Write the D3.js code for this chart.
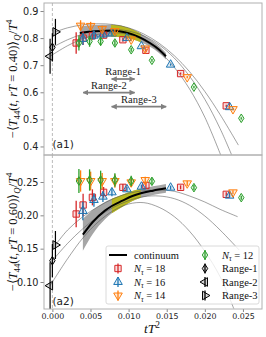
<!DOCTYPE html>
<html>
<head>
<meta charset="utf-8">
<script src="https://cdn.jsdelivr.net/npm/d3@7"></script>
<style>
  body { margin: 0; background: #fff; }
  svg { display: block; }
</style>
</head>
<body>
<div id="chart"></div>
<script>
// tT^2 positions of the lattice points (same in both panels)
const x18 = [0.00312, 0.00403, 0.00525, 0.00672, 0.00925, 0.01227, 0.01682, 0.02281];
const x16 = [0.00400, 0.00545, 0.00663, 0.00781, 0.00978, 0.01168, 0.01551, 0.02325];
const x14 = [0.00370, 0.00502, 0.00653, 0.00820, 0.01034, 0.01218, 0.01769, 0.02369];
const x12 = [0.00348, 0.00488, 0.00633, 0.00820, 0.01034, 0.01306, 0.01857, 0.02478];

// panel a1 (rT = 0.40)
const y18a = [0.782, 0.800, 0.809, 0.811, 0.794, 0.755, 0.669, 0.550];
const e18a = [0.040, 0.025, 0.015, 0.010, 0.007, 0.005, 0.004, 0.004];
const y16a = [0.797, 0.809, 0.813, 0.817, 0.800, 0.770, 0.702, 0.545];
const e16a = [0.022, 0.015, 0.010, 0.007, 0.005, 0.004, 0.004, 0.003];
const y14a = [0.846, 0.845, 0.834, 0.826, 0.795, 0.762, 0.656, 0.538];
const e14a = [0.020, 0.015, 0.012, 0.009, 0.007, 0.005, 0.004, 0.004];
const y12a = [0.782, 0.788, 0.788, 0.782, 0.757, 0.718, 0.619, 0.504];
const e12a = [0.028, 0.020, 0.015, 0.010, 0.007, 0.005, 0.004, 0.004];

// panel a2 (rT = 0.60)
const y18b = [0.202, 0.2155, 0.227, 0.2345, 0.242, 0.2448, 0.242, 0.2315];
const e18b = [0.020, 0.017, 0.012, 0.008, 0.005, 0.004, 0.003, 0.003];
const y16b = [0.2065, 0.223, 0.228, 0.2345, 0.239, 0.243, 0.2415, 0.2295];
const e16b = [0.014, 0.010, 0.008, 0.006, 0.004, 0.003, 0.003, 0.003];
const y14b = [0.2515, 0.2515, 0.2515, 0.2515, 0.2495, 0.253, 0.248, 0.2345];
const e14b = [0.016, 0.014, 0.012, 0.010, 0.007, 0.005, 0.004, 0.003];
const y12b = [0.2515, 0.253, 0.253, 0.253, 0.2515, 0.251, 0.2415, 0.2265];
const e12b = [0.018, 0.016, 0.014, 0.010, 0.008, 0.005, 0.004, 0.003];

// continuum curve + error band
const cont1X = [0.0036, 0.0056, 0.0077, 0.0095, 0.0106, 0.0116, 0.0128, 0.0139, 0.0149];
const cont1Y = [0.819, 0.825, 0.827, 0.822, 0.813, 0.801, 0.782, 0.760, 0.733];
const cont1E = [0.024, 0.023, 0.022, 0.020, 0.018, 0.016, 0.014, 0.013, 0.012];
const cont2X = [0.0040, 0.0053, 0.0069, 0.0078, 0.0092, 0.0105, 0.0116, 0.0132, 0.0149];
const cont2Y = [0.171, 0.190, 0.207, 0.214, 0.222, 0.229, 0.233, 0.237, 0.2405];
const cont2E = [0.024, 0.018, 0.013, 0.011, 0.009, 0.0075, 0.0068, 0.0065, 0.0065];
const oliveRange = [0.0077, 0.0116];

// fit curves for the three ranges
const r1aX = [0, 0.002, 0.004, 0.006, 0.008, 0.010, 0.012, 0.014, 0.016, 0.018, 0.020, 0.022, 0.0235];
const r1aY = [0.766, 0.794, 0.815, 0.828, 0.832, 0.826, 0.808, 0.775, 0.726, 0.659, 0.574, 0.466, 0.370];
const r2aX = [-0.0003, 0.002, 0.004, 0.006, 0.008, 0.010, 0.012, 0.014, 0.016, 0.018, 0.020, 0.0222];
const r2aY = [0.733, 0.772, 0.798, 0.814, 0.820, 0.813, 0.791, 0.751, 0.692, 0.612, 0.508, 0.360];
const r3aX = [0.0004, 0.002, 0.004, 0.006, 0.008, 0.010, 0.012, 0.014, 0.016, 0.018, 0.020, 0.022, 0.0244];
const r3aY = [0.823, 0.838, 0.849, 0.853, 0.850, 0.838, 0.815, 0.781, 0.735, 0.676, 0.603, 0.518, 0.405];

const r1bX = [0, 0.002, 0.004, 0.006, 0.008, 0.010, 0.012, 0.014, 0.016, 0.018, 0.020, 0.022, 0.0245];
const r1bY = [0.132, 0.158, 0.180, 0.198, 0.212, 0.222, 0.228, 0.229, 0.225, 0.215, 0.199, 0.178, 0.148];
const r2bX = [-0.0003, 0.002, 0.004, 0.006, 0.008, 0.010, 0.012, 0.014, 0.016, 0.018, 0.020, 0.022, 0.0238];
const r2bY = [0.0945, 0.135, 0.166, 0.190, 0.207, 0.217, 0.219, 0.212, 0.198, 0.176, 0.146, 0.108, 0.060];
const r3bX = [0.0004, 0.002, 0.004, 0.006, 0.008, 0.010, 0.012, 0.014, 0.016, 0.018, 0.020, 0.022, 0.0243];
const r3bY = [0.1555, 0.178, 0.198, 0.213, 0.225, 0.233, 0.237, 0.238, 0.236, 0.229, 0.220, 0.209, 0.198];

// extrapolated values at tT^2 -> 0 (Range-1, Range-2, Range-3)
const extX = [0, -0.0003, 0.0004];
const extYa = [0.766, 0.733, 0.823];
const extEa = [0.052, 0.065, 0.048];
const extYb = [0.132, 0.0945, 0.1555];
const extEb = [0.025, 0.035, 0.021];

// fit range arrows in a1
const rangeNames = ['Range-1', 'Range-2', 'Range-3'];
const rangeFrom = [0.00777, 0.00404, 0.00777];
const rangeTo = [0.01079, 0.01079, 0.01493];
const rangeY = [0.649, 0.599, 0.547];

const xTicks = [0, 0.005, 0.010, 0.015, 0.020, 0.025];
const yTicksA = [0.4, 0.5, 0.6, 0.7, 0.8, 0.9];
const yTicksB = [0.10, 0.15, 0.20, 0.25];

const W = 266, H = 337;
const svg = d3.select('#chart').append('svg').attr('width', W).attr('height', H);

let x = d3.scaleLinear().domain([-0.0011, 0.0275]).range([44, 262]);
let yA = d3.scaleLinear().domain([0.3685, 0.9296]).range([155, 3]);
let yB = d3.scaleLinear().domain([0.0595, 0.2905]).range([309, 155]);

const series = [
  {label: '18', color: '#d62728', shape: 'square', xs: x18, ya: y18a, ea: e18a, yb: y18b, eb: e18b},
  {label: '16', color: '#1f77b4', shape: 'up', xs: x16, ya: y16a, ea: e16a, yb: y16b, eb: e16b},
  {label: '14', color: '#ff7f0e', shape: 'down', xs: x14, ya: y14a, ea: e14a, yb: y14b, eb: e14b},
  {label: '12', color: '#2ca02c', shape: 'diamond', xs: x12, ya: y12a, ea: e12a, yb: y12b, eb: e12b},
];
const extShapes = ['diamond', 'left', 'right'];

let markerPath = function(shape) {
  if (shape === 'square') return d3.symbol(d3.symbolSquare, 40)();
  if (shape === 'diamond') return 'M0,-4.3L2.7,0L0,4.3L-2.7,0Z';
  return d3.symbol(d3.symbolTriangle, 32)();
};
let markerRot = function(shape) {
  return {down: 180, left: -90, right: 90}[shape] || 0;
};

let drawMarker = function(g, px, py, shape, color) {
  g.append('path')
    .attr('d', markerPath(shape))
    .attr('transform', 'translate(' + px + ',' + py + ') rotate(' + markerRot(shape) + ')')
    .attr('fill', color).attr('fill-opacity', 0.15)
    .attr('stroke', color).attr('stroke-width', 1);
};

let zip = (xs, ys, es) => xs.map((v, i) => ({x: v, y: ys[i], e: es ? es[i] : 0}));

let drawPanel = function(y, key, cont, curves, extY, extE, clipId, top, bottom) {
  svg.append('clipPath').attr('id', clipId)
    .append('rect').attr('x', 44).attr('y', top).attr('width', 218).attr('height', bottom - top);
  let g = svg.append('g').attr('clip-path', 'url(#' + clipId + ')');

  // zero line
  g.append('line')
    .attr('x1', x(0)).attr('x2', x(0)).attr('y1', top).attr('y2', bottom)
    .attr('stroke', '#bbb').attr('stroke-width', 1).attr('stroke-dasharray', '3,2');

  // continuum band
  let area = d3.area().x(d => x(d.x)).y0(d => y(d.y - d.e)).y1(d => y(d.y + d.e)).curve(d3.curveMonotoneX);
  g.append('path').datum(cont).attr('d', area).attr('fill', '#a6a6a6');
  let olive = cont.filter(d => d.x >= oliveRange[0] - 1e-6 && d.x <= oliveRange[1] + 1e-6);
  g.append('path').datum(olive).attr('d', area).attr('fill', '#b8b820');

  // range fits
  let thin = d3.line().x(d => x(d.x)).y(d => y(d.y)).curve(d3.curveCatmullRom.alpha(0.5));
  curves.forEach(function(c) {
    g.append('path').datum(c).attr('d', thin)
      .attr('fill', 'none').attr('stroke', '#555').attr('stroke-width', 0.55);
  });

  let thick = d3.line().x(d => x(d.x)).y(d => y(d.y)).curve(d3.curveMonotoneX);
  g.append('path').datum(cont).attr('d', thick)
    .attr('fill', 'none').attr('stroke', '#000').attr('stroke-width', 2);

  // lattice data
  series.forEach(function(s) {
    let pts = zip(s.xs, s['y' + key], s['e' + key]);
    pts.forEach(function(p) {
      g.append('line')
        .attr('x1', x(p.x)).attr('x2', x(p.x))
        .attr('y1', y(p.y - p.e)).attr('y2', y(p.y + p.e))
        .attr('stroke', s.color).attr('stroke-width', 1.3);
      drawMarker(g, x(p.x), y(p.y), s.shape, s.color);
    });
  });

  // extrapolated points
  extX.forEach(function(v, i) {
    g.append('line')
      .attr('x1', x(v)).attr('x2', x(v))
      .attr('y1', y(extY[i] - extE[i])).attr('y2', y(extY[i] + extE[i]))
      .attr('stroke', '#000').attr('stroke-width', 1.2);
    drawMarker(g, x(v), y(extY[i]), extShapes[i], '#000');
  });
  return g;
};

let panelA = drawPanel(yA, 'a',
  zip(cont1X, cont1Y, cont1E),
  [zip(r1aX, r1aY), zip(r2aX, r2aY), zip(r3aX, r3aY)],
  extYa, extEa, 'clipA', 3, 155);
let panelB = drawPanel(yB, 'b',
  zip(cont2X, cont2Y, cont2E),
  [zip(r1bX, r1bY), zip(r2bX, r2bY), zip(r3bX, r3bY)],
  extYb, extEb, 'clipB', 155, 309);

// range arrows
let defs = svg.append('defs');
defs.append('marker').attr('id', 'arrEnd')
  .attr('viewBox', '0 0 10 10').attr('refX', 9).attr('refY', 5)
  .attr('markerWidth', 3.2).attr('markerHeight', 3.2).attr('orient', 'auto-start-reverse')
  .append('path').attr('d', 'M0,0L10,5L0,10Z').attr('fill', '#808080');
rangeNames.forEach(function(name, i) {
  panelA.append('line')
    .attr('x1', x(rangeFrom[i])).attr('x2', x(rangeTo[i]))
    .attr('y1', yA(rangeY[i])).attr('y2', yA(rangeY[i]))
    .attr('stroke', '#808080').attr('stroke-width', 1.8)
    .attr('marker-start', 'url(#arrEnd)').attr('marker-end', 'url(#arrEnd)');
  svg.append('text')
    .attr('x', x((rangeFrom[i] + rangeTo[i]) / 2)).attr('y', yA(rangeY[i]) - 4)
    .attr('text-anchor', 'middle')
    .attr('font-family', 'Liberation Serif, serif').attr('font-size', 10.5)
    .attr('fill', '#222').text(name);
});

// axes
let styleAxis = function(g, fs) {
  g.select('.domain').remove();
  g.selectAll('line').attr('stroke', '#888');
  g.selectAll('text').attr('font-family', 'DejaVu Sans, sans-serif').attr('font-size', fs).attr('fill', '#222');
};
svg.append('g').attr('transform', 'translate(44,0)')
  .call(d3.axisLeft(yA).tickValues(yTicksA).tickFormat(d3.format('.1f')).tickSize(3.5).tickPadding(2))
  .call(g => styleAxis(g, 9.7));
svg.append('g').attr('transform', 'translate(44,0)')
  .call(d3.axisLeft(yB).tickValues(yTicksB).tickFormat(d3.format('.2f')).tickSize(3.5).tickPadding(2))
  .call(g => styleAxis(g, 9.7));
svg.append('g').attr('transform', 'translate(0,309)')
  .call(d3.axisBottom(x).tickValues(xTicks).tickFormat(d3.format('.3f')).tickSize(3).tickPadding(1))
  .call(g => styleAxis(g, 7.9));

// frames
[[3, 155], [155, 309]].forEach(function(r) {
  svg.append('rect').attr('x', 44).attr('y', r[0]).attr('width', 218).attr('height', r[1] - r[0])
    .attr('fill', 'none').attr('stroke', '#b0b0b0').attr('stroke-width', 1);
});

// panel tags
[['(a1)', 148], ['(a2)', 305]].forEach(function(t) {
  svg.append('text').attr('x', 52.5).attr('y', t[1])
    .attr('font-family', 'DejaVu Sans, sans-serif').attr('font-size', 10.5).attr('fill', '#222')
    .text(t[0]);
});

// math-like text built from pieces: [text, flags] (i italic, s sub, p sup)
let mathText = function(sel, parts, fs) {
  let shift = 0;
  parts.forEach(function(p) {
    let f = p[1] || '';
    let target = f.includes('s') ? fs * 0.25 : (f.includes('p') ? -fs * 0.38 : 0);
    let ts = sel.append('tspan').attr('dy', target - shift).text(p[0]);
    shift = target;
    if (f.includes('i')) ts.attr('font-style', 'italic');
    if (f.includes('s') || f.includes('p')) ts.attr('font-size', fs * 0.7);
  });
};

let yLabel = function(cy, rt) {
  let t = svg.append('text')
    .attr('transform', 'translate(17,' + cy + ') rotate(-90)')
    .attr('text-anchor', 'middle')
    .attr('font-family', 'Liberation Serif, serif').attr('font-size', 12.5).attr('fill', '#111');
  mathText(t, [['−⟨'], ['T', 'i'], ['44', 's'], ['('], ['t', 'i'], [', '], ['rT', 'i'],
    [' = ' + rt + ')'], ['⟩'], ['Q', 'si'], ['/'], ['T', 'i'], ['4', 'p']], 12.5);
};
yLabel(79, '0.40');
yLabel(232, '0.60');

let xl = svg.append('text').attr('x', 152).attr('y', 333).attr('text-anchor', 'middle')
  .attr('font-family', 'Liberation Serif, serif').attr('font-size', 13.5).attr('fill', '#111');
mathText(xl, [['tT', 'i'], ['2', 'p']], 13.5);

// legend
let lg = svg.append('g');
lg.append('rect').attr('x', 106).attr('y', 246).attr('width', 153).attr('height', 58).attr('rx', 2)
  .attr('fill', '#fff').attr('fill-opacity', 0.8).attr('stroke', '#d0d0d0').attr('stroke-width', 0.8);
let rowY = [255, 268.5, 282, 295.5];
let legendItems = [
  {col: 0, row: 0, kind: 'line', text: [['continuum']]},
  {col: 0, row: 1, kind: series[0].shape, color: series[0].color, text: [['N', 'i'], ['τ', 'si'], [' = 18']]},
  {col: 0, row: 2, kind: series[1].shape, color: series[1].color, text: [['N', 'i'], ['τ', 'si'], [' = 16']]},
  {col: 0, row: 3, kind: series[2].shape, color: series[2].color, text: [['N', 'i'], ['τ', 'si'], [' = 14']]},
  {col: 1, row: 0, kind: series[3].shape, color: series[3].color, text: [['N', 'i'], ['τ', 'si'], [' = 12']]},
  {col: 1, row: 1, kind: extShapes[0], color: '#000', text: [[rangeNames[0]]]},
  {col: 1, row: 2, kind: extShapes[1], color: '#000', text: [[rangeNames[1]]]},
  {col: 1, row: 3, kind: extShapes[2], color: '#000', text: [[rangeNames[2]]]},
];
legendItems.forEach(function(it) {
  let hx = it.col === 0 ? 118 : 205;
  let tx = it.col === 0 ? 134 : 222;
  let yy = rowY[it.row];
  if (it.kind === 'line') {
    lg.append('line').attr('x1', hx - 9).attr('x2', hx + 9).attr('y1', yy).attr('y2', yy)
      .attr('stroke', '#000').attr('stroke-width', 2);
  } else {
    lg.append('line').attr('x1', hx).attr('x2', hx).attr('y1', yy - 5).attr('y2', yy + 5)
      .attr('stroke', it.color).attr('stroke-width', 1.3);
    drawMarker(lg, hx, yy, it.kind, it.color);
  }
  let t = lg.append('text').attr('x', tx).attr('y', yy + 3.5)
    .attr('font-family', 'Liberation Serif, serif').attr('font-size', 10.5).attr('fill', '#111');
  mathText(t, it.text, 10.5);
});
</script>
</body>
</html>
